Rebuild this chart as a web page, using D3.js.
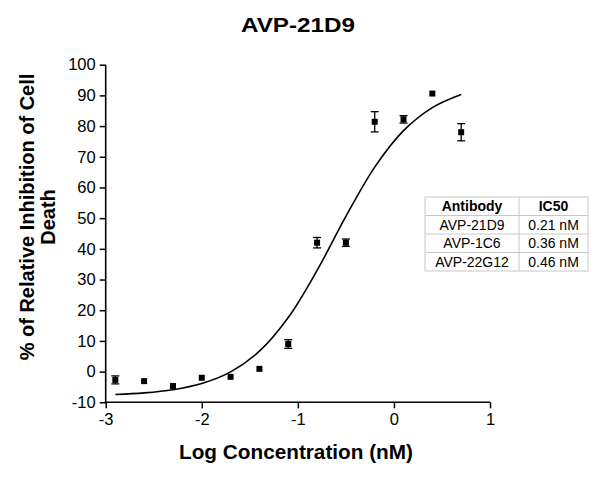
<!DOCTYPE html>
<html><head><meta charset="utf-8">
<script src="https://cdn.jsdelivr.net/npm/d3@7"></script>
<style>body{margin:0;background:#fff}svg{display:block}text{font-family:"Liberation Sans",Arial,sans-serif}</style>
</head><body>
<svg id="c" width="600" height="481"></svg>
<script>
const logConc = [-2.9, -2.6, -2.3, -2.0, -1.7, -1.4, -1.1, -0.8, -0.5, -0.2, 0.1, 0.4, 0.7];
const inhibition = [-2.7, -3.1, -4.7, -2.0, -1.7, 0.9, 9.0, 42.0, 42.0, 81.4, 82.2, 90.6, 78.0];
const errors = [1.3, 0, 0, 0, 0, 0, 1.4, 1.7, 1.2, 3.3, 1.2, 0, 2.8];
const curveX = [-2.9, -2.6, -2.3, -2.0, -1.7, -1.4, -1.1, -0.8, -0.5, -0.2, 0.1, 0.4, 0.7];
const curveY = [-7.46, -6.93, -5.89, -3.88, -0.09, 6.65, 17.62, 32.97, 50.56, 66.64, 78.52, 86.02, 90.29];
const xTicks = [-3, -2, -1, 0, 1];
const yTicks = [-10, 0, 10, 20, 30, 40, 50, 60, 70, 80, 90, 100];
const tableHeader = ["Antibody", "IC50"];
const antibodies = ["AVP-21D9", "AVP-1C6", "AVP-22G12"];
const ic50 = ["0.21 nM", "0.36 nM", "0.46 nM"];

const svg = d3.select("#c");
const x = d3.scaleLinear().domain([-3, 1]).range([105.7, 490]);
const y = d3.scaleLinear().domain([-10, 100]).range([402.3, 64.7]);

// Title
svg.append("text").attr("x", 298).attr("y", 32).attr("text-anchor", "middle")
  .attr("font-size", 21).attr("font-weight", "bold")
  .attr("textLength", 114).attr("lengthAdjust", "spacingAndGlyphs").text("AVP-21D9");

// Axes
const fmt = d => String(d);
const xAxis = svg.append("g").attr("transform", `translate(0,${y(-10)})`)
  .call(d3.axisBottom(x).tickValues(xTicks).tickFormat(fmt).tickSizeOuter(0).tickSize(6).tickPadding(5));
const yAxis = svg.append("g").attr("transform", `translate(${x(-3)},0)`)
  .call(d3.axisLeft(y).tickValues(yTicks).tickFormat(fmt).tickSizeOuter(0).tickSize(6).tickPadding(4));
[xAxis, yAxis].forEach(g => {
  g.select(".domain").attr("stroke", "#000").attr("stroke-width", 1.6);
  g.selectAll(".tick line").attr("stroke", "#000").attr("stroke-width", 1.5);
  g.selectAll(".tick text").attr("fill", "#000").attr("font-size", 16.5)
    .attr("font-family", '"Liberation Sans",Arial,sans-serif');
});
xAxis.select(".domain").attr("d", `M${x(-3) - 0.8},0H${x(1)}`);
yAxis.select(".domain").attr("d", `M0,${y(100)}V${y(-10) + 0.8}`);

// Axis labels
svg.append("text").attr("x", 296).attr("y", 459).attr("text-anchor", "middle")
  .attr("font-size", 20).attr("font-weight", "bold")
  .attr("textLength", 234).attr("lengthAdjust", "spacingAndGlyphs").text("Log Concentration (nM)");
const yl = svg.append("text").attr("transform", "translate(34,217) rotate(-90)")
  .attr("text-anchor", "middle").attr("font-size", 20).attr("font-weight", "bold");
yl.append("tspan").attr("x", 0).attr("y", 0).text("% of Relative Inhibition of Cell");
yl.append("tspan").attr("x", 0).attr("y", 21).text("Death");

// Fitted curve
const curvePts = curveX.map((d, i) => [d, curveY[i]]);
svg.append("path").datum(curvePts)
  .attr("d", d3.line().x(d => x(d[0])).y(d => y(d[1])).curve(d3.curveCatmullRom))
  .attr("fill", "none").attr("stroke", "#000").attr("stroke-width", 1.6);

// Error bars and points
const pts = logConc.map((d, i) => ({x: d, y: inhibition[i], e: errors[i]}));
const eb = svg.append("g").attr("stroke", "#000").attr("stroke-width", 1.3);
pts.filter(p => p.e > 0).forEach(p => {
  const cx = x(p.x), y1 = y(p.y + p.e), y2 = y(p.y - p.e);
  eb.append("line").attr("x1", cx).attr("x2", cx).attr("y1", y1).attr("y2", y2);
  eb.append("line").attr("x1", cx - 4).attr("x2", cx + 4).attr("y1", y1).attr("y2", y1);
  eb.append("line").attr("x1", cx - 4).attr("x2", cx + 4).attr("y1", y2).attr("y2", y2);
});
svg.append("g").selectAll("rect").data(pts).join("rect")
  .attr("x", d => x(d.x) - 3).attr("y", d => y(d.y) - 3)
  .attr("width", 6).attr("height", 6).attr("fill", "#000");

// Table
const tx = [425, 519, 588], ty0 = 197, rh = 18.5;
const rows = [tableHeader].concat(antibodies.map((a, i) => [a, ic50[i]]));
const tg = svg.append("g");
tg.append("rect").attr("x", tx[0]).attr("y", ty0).attr("width", tx[2] - tx[0]).attr("height", rh * rows.length)
  .attr("fill", "#fff").attr("stroke", "#c8c8c8");
for (let r = 1; r < rows.length; r++)
  tg.append("line").attr("x1", tx[0]).attr("x2", tx[2]).attr("y1", ty0 + r * rh).attr("y2", ty0 + r * rh).attr("stroke", "#c8c8c8");
tg.append("line").attr("x1", tx[1]).attr("x2", tx[1]).attr("y1", ty0).attr("y2", ty0 + rh * rows.length).attr("stroke", "#c8c8c8");
rows.forEach((row, r) => {
  row.forEach((t, c) => {
    tg.append("text").attr("x", (tx[c] + tx[c + 1]) / 2).attr("y", ty0 + r * rh + rh / 2 + 5)
      .attr("text-anchor", "middle").attr("font-size", 14)
      .attr("font-weight", r === 0 ? "bold" : "normal").text(t);
  });
});
</script>
</body></html>
